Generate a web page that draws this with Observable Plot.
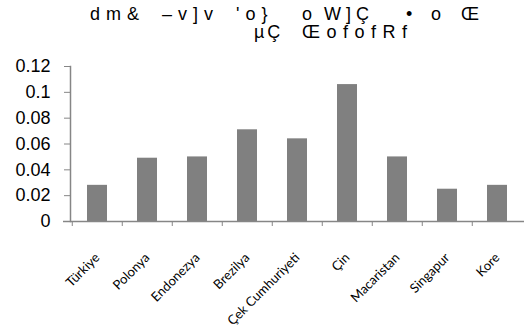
<!DOCTYPE html>
<html><head><meta charset="utf-8">
<script src="https://cdn.jsdelivr.net/npm/d3@7"></script>
<script src="https://cdn.jsdelivr.net/npm/@observablehq/plot@0.6"></script>
<style>
body{margin:0;background:#fff;}
#title{position:relative;height:44px;width:524px;font-family:"Liberation Sans",Arial,sans-serif;font-size:18px;line-height:18px;color:#000;}
#title span{position:absolute;white-space:pre;}
</style></head><body>
<div id="title"></div><div id="chart"></div>
<script>
const categories = ["Türkiye","Polonya","Endonezya","Brezilya","Çek Cumhuriyeti","Çin","Macaristan","Singapur","Kore"];
const values = [0.028, 0.049, 0.050, 0.071, 0.064, 0.106, 0.050, 0.025, 0.028];
const yTicks = [0, 0.02, 0.04, 0.06, 0.08, 0.1, 0.12];
const yTickLabels = ["0","0.02","0.04","0.06","0.08","0.1","0.12"];
const titleWords1 = ["dm&","–v]v","'o}","o","W]Ç","•","o","Œ"];
const titleWords2 = ["µÇ","ŒofofRf"];

// layout of title pieces: left position and letter spacing
const titleX1 = [90,162,236,302,324,406,431,461];
const titleLS1 = [6,6,6,6,5,6,6,6];
const titleX2 = [254,302];
const titleLS2 = [3,6.5];
const t = document.getElementById("title");
function addWords(words, xs, ls, top){
  words.forEach((w,i)=>{
    const s=document.createElement("span");
    s.textContent=w;
    s.style.left=xs[i]+"px";
    s.style.top=top+"px";
    s.style.letterSpacing=ls[i]+"px";
    t.appendChild(s);
  });
}
addWords(titleWords1, titleX1, titleLS1, 5);
addWords(titleWords2, titleX2, titleLS2, 23);

const data = categories.map((c,i)=>({cat:c, val:values[i]}));
const W = 524, H = 288, ML = 70, MR = 0;
const bw = (W - ML - MR) / categories.length;
const chart = Plot.plot({
  width: W, height: H,
  marginLeft: ML, marginRight: MR, marginTop: 22, marginBottom: 111,
  style: {fontFamily: "'Liberation Sans', Arial, sans-serif", background: "white", color: "black"},
  x: {domain: categories, padding: 0, label: null, axis: null},
  y: {domain: [0, 0.12], label: null, axis: null},
  marks: [
    Plot.barY(data, {x: "cat", y: "val", fill: "#808080", insetLeft: 15, insetRight: 15}),
    Plot.axisY({ticks: yTicks, tickFormat: d => yTickLabels[yTicks.indexOf(d)], tickSize: 6, tickPadding: 14, fontSize: 18, stroke: "#868686", fill: "black", label: null, style: "letter-spacing:1.5px"}),
    Plot.axisX({tickSize: 5, fill: "none", stroke: "#868686", dx: -bw / 2, label: null}),
    Plot.axisX({tickSize: 0, tickPadding: 34, tickRotate: -45, fontSize: 13, fontFamily: "Lato", stroke: "none", fill: "black", label: null}),
    Plot.frame({anchor: "left", stroke: "#868686", strokeWidth: 1.5}),
    Plot.ruleY([0], {stroke: "#868686", strokeWidth: 1.5, insetLeft: -7})
  ]
});
document.getElementById("chart").appendChild(chart);
</script>
</body></html>
